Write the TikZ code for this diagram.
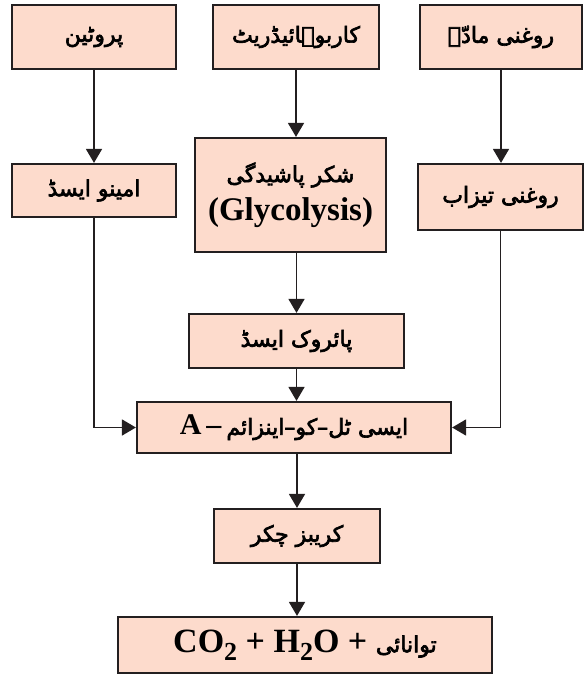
\documentclass[tikz,border=0pt]{standalone}
\usepackage{fontspec}
\setmainfont{Liberation Serif}
\newfontfamily\ur[Script=Arabic, BoldFont={DejaVu Sans}, BoldFeatures={FakeBold=3}]{DejaVu Sans}
\TeXXeTstate=1
\usetikzlibrary{arrows.meta,calc}
\definecolor{boxfill}{RGB}{253,219,204}
\definecolor{edge}{RGB}{35,31,32}
\tikzset{
  box/.style={draw=edge, line width=2.2pt, fill=boxfill, inner sep=0pt, align=center,
    font=\fontsize{22}{27}\selectfont\bfseries},
  conn/.style={draw=edge, line width=1.6pt, -{Triangle[width=16pt,length=14pt]}}
}
\newcommand{\urt}[1]{{\ur\bfseries\beginR #1\endR}}
\begin{document}
\begin{tikzpicture}[x=1pt,y=-1pt]
\useasboundingbox (0,0) rectangle (587,676);
\node[box, minimum width=164pt, minimum height=64pt] (prot) at (94,37) {\urt{پروٹین}};
\node[box, minimum width=166pt, minimum height=64pt] (carb) at (296,37) {\urt{کاربوہائیڈریٹ}};
\node[box, minimum width=162pt, minimum height=64pt] (fat) at (501,37) {\urt{روغنی مادّے}};
\node[box, minimum width=164pt, minimum height=53pt] (amino) at (94,190.5) {\urt{امینو ایسڈ}};
\node[box, minimum width=191pt, minimum height=114pt] (glyc) at (290.5,195) {\urt{شکر پاشیدگی}\\[9pt]{\fontsize{33}{36}\selectfont (Glycolysis)}};
\node[box, minimum width=165pt, minimum height=66pt] (facid) at (500.5,197) {\urt{روغنی تیزاب}};
\node[box, minimum width=215pt, minimum height=54pt] (pyr) at (296.5,341) {\urt{پائروک ایسڈ}};
\node[box, minimum width=314pt, minimum height=51pt] (acetyl) at (294,427.5) {{\fontsize{30}{32}\selectfont A\,–\,}\urt{ایسی ٹل–کو–اینزائم}};
\node[box, minimum width=166pt, minimum height=54pt] (krebs) at (297,536) {\urt{کریبز چکر}};
\node[box, minimum width=374pt, minimum height=56pt] (final) at (305,645) {{\fontsize{34}{36}\selectfont CO\raisebox{-8pt}{\fontsize{26}{26}\selectfont 2} + H\raisebox{-8pt}{\fontsize{26}{26}\selectfont 2}O + }\urt{توانائی}};
\draw[conn] (prot.south) -- (amino.north);
\draw[conn] (carb.south) -- (carb.south |- glyc.north);
\draw[conn] (fat.south) -- (fat.south |- facid.north);
\draw[conn] (pyr.north |- glyc.south) -- (pyr.north);
\draw[conn] (pyr.south) -- (pyr.south |- acetyl.north);
\draw[conn] (krebs.north |- acetyl.south) -- (krebs.north);
\draw[conn] (krebs.south) -- (krebs.south |- final.north);
\draw[conn] (amino.south) |- (acetyl.west);
\draw[conn] (facid.south) |- (acetyl.east);
\end{tikzpicture}
\end{document}
